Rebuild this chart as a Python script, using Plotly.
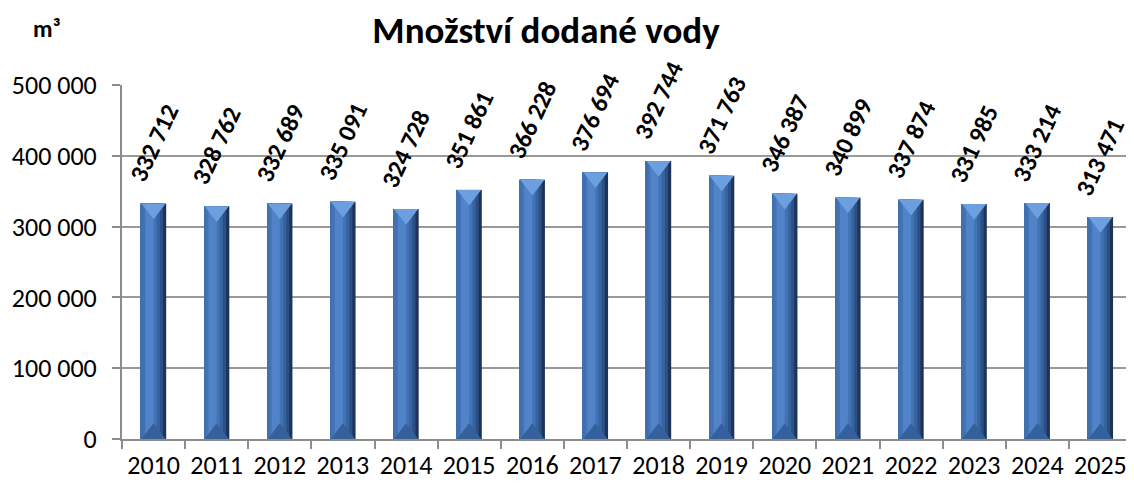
import plotly.graph_objects as go

years = ["2010", "2011", "2012", "2013", "2014", "2015", "2016", "2017",
         "2018", "2019", "2020", "2021", "2022", "2023", "2024", "2025"]
values = [332712, 328762, 332689, 335091, 324728, 351861, 366228, 376694,
          392744, 371763, 346387, 340899, 337874, 331985, 333214, 313471]
y_ticks = [0, 100000, 200000, 300000, 400000, 500000]

FONT = "Carlito, Lato, sans-serif"
Y_MAX = 500000
PLOT_H = 354  # px height of plot area
UNIT_PER_PX = Y_MAX / PLOT_H
FIG_W, FIG_H = 1126, 475  # page body has an 8px margin


def fmt(v):
    return f"{v:,}".replace(",", " ")


fig = go.Figure()

# bar made of overlaid strips for a bevelled 3D look
strips = [
    (-0.20, 0.40, "#1e3457"),
    (-0.20, 0.35, "#2c5085"),
    (-0.20, 0.30, "#3763a0"),
    (-0.175, 0.225, "#4373b5"),
    (-0.13, 0.13, "#5083c8"),
    (-0.20, 0.025, "#4170ae"),
]
for off, w, col in strips:
    fig.add_trace(go.Bar(
        x=years, y=values, width=[w] * len(years), offset=[off] * len(years),
        marker=dict(color=col, line=dict(width=0)),
        hoverinfo="skip", showlegend=False,
    ))

# top bevel triangle
fig.add_trace(go.Scatter(
    x=years, y=[v - 5.2 * UNIT_PER_PX for v in values], mode="markers",
    marker=dict(symbol="triangle-down", size=21, color="#6b9fe0",
                line=dict(width=0)),
    hoverinfo="skip", showlegend=False,
))
# bottom bevel
fig.add_trace(go.Scatter(
    x=years, y=[5.2 * UNIT_PER_PX for v in values], mode="markers",
    marker=dict(symbol="triangle-up", size=21, color="#35609b",
                line=dict(width=0)),
    hoverinfo="skip", showlegend=False,
))

for i, v in enumerate(values):
    fig.add_annotation(
        x=i, y=v, text=fmt(v), textangle=-65, showarrow=False,
        xanchor="center", yanchor="bottom", yshift=14,
        font=dict(family=FONT, size=25, color="black", weight="bold"),
    )

fig.add_annotation(
    xref="paper", yref="paper", x=-0.0743, y=1.161, text="m³", showarrow=False,
    xanchor="center", yanchor="middle",
    font=dict(family=FONT, size=24, color="black", weight="bold"),
)

fig.update_layout(
    width=FIG_W, height=FIG_H,
    margin=dict(l=114, r=2, t=77, b=44, autoexpand=False),
    paper_bgcolor="white", plot_bgcolor="white",
    barmode="overlay",
    separators=", ",
    title=dict(text="<b>Množství dodané vody</b>", x=0.4778, xanchor="center",
               y=1 - 22 / FIG_H, yanchor="middle",
               font=dict(family=FONT, size=37, color="black")),
    font=dict(family=FONT, color="black"),
)
fig.update_xaxes(
    type="category", categoryorder="array", categoryarray=years,
    range=[-0.5, len(years) - 0.5], autorange=False, automargin=False,
    showgrid=False, showline=True, linecolor="#8c8c8c",
    linewidth=2, ticks="outside", tickson="boundaries", ticklen=8,
    tickcolor="#8c8c8c", tickwidth=2, tickangle=0, ticklabelstandoff=2,
    tickfont=dict(family=FONT, size=26, color="black"),
)
fig.update_yaxes(
    range=[0, Y_MAX], autorange=False, automargin=False,
    tickvals=y_ticks, tickformat=",d",
    showgrid=True, gridcolor="#999999", gridwidth=2,
    showline=True, linecolor="#8c8c8c", linewidth=2,
    ticks="outside", ticklen=8, tickcolor="#8c8c8c", tickwidth=2,
    ticklabelstandoff=10, zeroline=False,
    tickfont=dict(family=FONT, size=26, color="black"),
)

fig.write_html("out.html")
